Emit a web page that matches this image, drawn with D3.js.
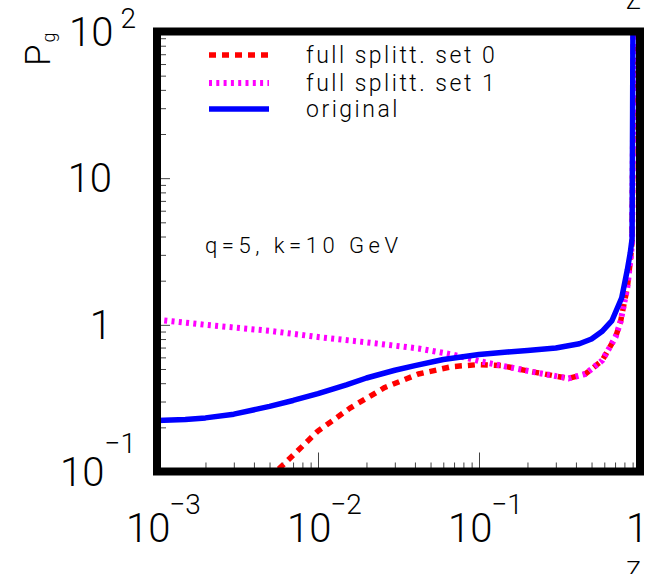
<!DOCTYPE html>
<html>
<head>
<meta charset="utf-8">
<script src="https://cdnjs.cloudflare.com/ajax/libs/d3/7.8.5/d3.min.js"></script>
<style>
	body { margin: 0; background: #fff; }
	svg text { font-family: Roboto, "Liberation Sans", Arial, sans-serif; font-weight: 300; fill: #000; }
</style>
</head>
<body>
<svg id="chart" width="648" height="574"></svg>
<script>
/* values: z and P_g for every curve */
var zSet0 = [0.005, 0.0055, 0.007, 0.01, 0.016, 0.026, 0.042, 0.068, 0.1, 0.138, 0.224, 0.36, 0.457, 0.582, 0.705, 0.757, 0.834, 0.87, 0.893, 0.905, 0.91];
var pSet0 = [0.09, 0.1, 0.129, 0.189, 0.273, 0.374, 0.462, 0.519, 0.536, 0.527, 0.474, 0.431, 0.462, 0.571, 0.826, 1.05, 1.8, 2.7, 3.67, 20, 150];

var zSet1 = [0.001, 0.002, 0.005, 0.01, 0.02, 0.042, 0.068, 0.1, 0.138, 0.224, 0.36, 0.457, 0.582, 0.705, 0.757, 0.834, 0.87, 0.893, 0.905, 0.91];
var pSet1 = [1.085, 1.0, 0.91, 0.826, 0.76, 0.69, 0.628, 0.566, 0.527, 0.474, 0.431, 0.462, 0.571, 0.826, 1.05, 1.8, 2.7, 3.67, 20, 150];

var zOrig = [0.001, 0.0015, 0.002, 0.003, 0.005, 0.007, 0.01, 0.015, 0.02, 0.03, 0.04, 0.06, 0.1, 0.15, 0.2, 0.3, 0.42, 0.5, 0.58, 0.67, 0.77, 0.834, 0.87, 0.893, 0.9, 0.905];
var pOrig = [0.223, 0.226, 0.232, 0.246, 0.278, 0.305, 0.34, 0.39, 0.434, 0.49, 0.527, 0.58, 0.628, 0.652, 0.668, 0.695, 0.743, 0.80, 0.90, 1.07, 1.53, 2.37, 3.1, 3.86, 30, 150];

var legendLabels = ["full splitt. set 0", "full splitt. set 1", "original"];

var xTickVals = [1e-3, 1e-2, 1e-1, 1];
var xTickBase = ["10", "10", "10", "1"];
var xTickExp = ["\u22123", "\u22122", "\u22121", ""];

var yTickVals = [0.1, 1, 10, 100];
var yTickBase = ["10", "1", "10", "10"];
var yTickExp = ["\u22121", "", "", "2"];

var svg = d3.select("#chart");

// log scales, range is the centre line of the thick frame
var x = d3.scaleLog().domain([1e-3, 1]).range([157, 640]);
var y = d3.scaleLog().domain([0.1, 100]).range([471.5, 31.5]);

/* minor tick values: 2..9 in every decade of a domain */
function minorTicks(lo, hi) {
	var out = [];
	for (var d = lo; d < hi; d *= 10) {
		for (var k = 2; k <= 9; k++) out.push(d * k);
	}
	return out;
};

svg.append("clipPath").attr("id", "plotclip")
	.append("rect")
	.attr("x", 157).attr("y", 31.5)
	.attr("width", 483).attr("height", 440);

// ticks on the inside of the frame, bottom and left only
function drawTicks(axis, vals, size, tr) {
	var g = svg.append("g")
		.attr("transform", tr)
		.call(axis.tickValues(vals).tickSize(size).tickFormat(""));
	g.select(".domain").remove();
	g.selectAll("line").attr("stroke", "#444").attr("stroke-width", 1);
};
drawTicks(d3.axisBottom(x), minorTicks(1e-3, 1), -9, "translate(0,471.5)");
drawTicks(d3.axisBottom(x), xTickVals, -19, "translate(0,471.5)");
drawTicks(d3.axisLeft(y), minorTicks(0.1, 100), -9, "translate(157,0)");
drawTicks(d3.axisLeft(y), yTickVals, -13, "translate(157,0)");

/* the three curves */
var line = d3.line()
	.x(function(d) { return x(d[0]); })
	.y(function(d) { return y(d[1]); });

var curves = [
	{ z: zSet0, p: pSet0, color: "#ff0000", dash: "7,6", width: 5.5 },
	{ z: zSet1, p: pSet1, color: "#ff00ff", dash: "3,4.3", width: 6 },
	{ z: zOrig, p: pOrig, color: "#0000ff", dash: null, width: 5.5 }
];

var plot = svg.append("g").attr("clip-path", "url(#plotclip)");
curves.forEach(function(c) {
	plot.append("path")
		.datum(d3.zip(c.z, c.p))
		.attr("d", line)
		.attr("fill", "none")
		.attr("stroke", c.color)
		.attr("stroke-width", c.width)
		.attr("stroke-dasharray", c.dash)
		.attr("stroke-linejoin", "round");
});

// thick frame
svg.append("rect")
	.attr("x", 157).attr("y", 31.5)
	.attr("width", 483).attr("height", 440)
	.attr("fill", "none")
	.attr("stroke", "#000")
	.attr("stroke-width", 8);

/* tick labels with optional exponent */
xTickVals.forEach(function(v, i) {
	var t = svg.append("text")
		.attr("x", xTickExp[i] ? x(v) - 31 : 626)
		.attr("y", 542)
		.style("font-size", "40px");
	t.append("tspan").text(xTickBase[i]);
	if (xTickExp[i]) {
		t.append("tspan").attr("dx", -1).attr("dy", -28)
			.style("font-size", "28px").text(xTickExp[i]);
	}
});

yTickVals.forEach(function(v, i) {
	var t = svg.append("text")
		.attr("text-anchor", "end")
		.attr("x", yTickExp[i] ? 136 : 112)
		.attr("y", y(v) + 14)
		.style("font-size", "40px");
	t.append("tspan").text(yTickBase[i]);
	if (yTickExp[i]) {
		var up = yTickExp[i] == "2" ? -18 : -33;
		t.append("tspan").attr("dx", yTickExp[i] == "2" ? 7 : 0).attr("dy", up)
			.style("font-size", "28px").text(yTickExp[i]);
	}
});

// axis titles: Z at bottom, clipped copy at top, P_g rotated
svg.append("text").attr("x", 626).attr("y", 580).style("font-size", "25px").text("Z");
svg.append("text").attr("x", 626).attr("y", 8.5).style("font-size", "25px").text("Z");

var yt = svg.append("text")
	.attr("transform", "translate(50,66) rotate(-90)")
	.style("font-size", "35px");
yt.append("tspan").text("P");
yt.append("tspan").attr("dy", 5).attr("dx", 2).style("font-size", "18px").text("g");

/* legend */
legendLabels.forEach(function(lab, i) {
	var ly = [55, 83, 109][i];
	svg.append("line")
		.attr("x1", 209).attr("x2", 269)
		.attr("y1", ly).attr("y2", ly)
		.attr("stroke", curves[i].color)
		.attr("stroke-width", curves[i].width)
		.attr("stroke-dasharray", curves[i].dash);
	svg.append("text")
		.attr("x", 306).attr("y", ly + 8)
		.style("font-size", "23px")
		.style("letter-spacing", "2.5px")
		.text(lab);
});

svg.append("text")
	.attr("x", 205).attr("y", 253)
	.style("font-size", "22px")
	.style("letter-spacing", "4.5px")
	.text("q=5, k=10 GeV");
</script>
</body>
</html>
